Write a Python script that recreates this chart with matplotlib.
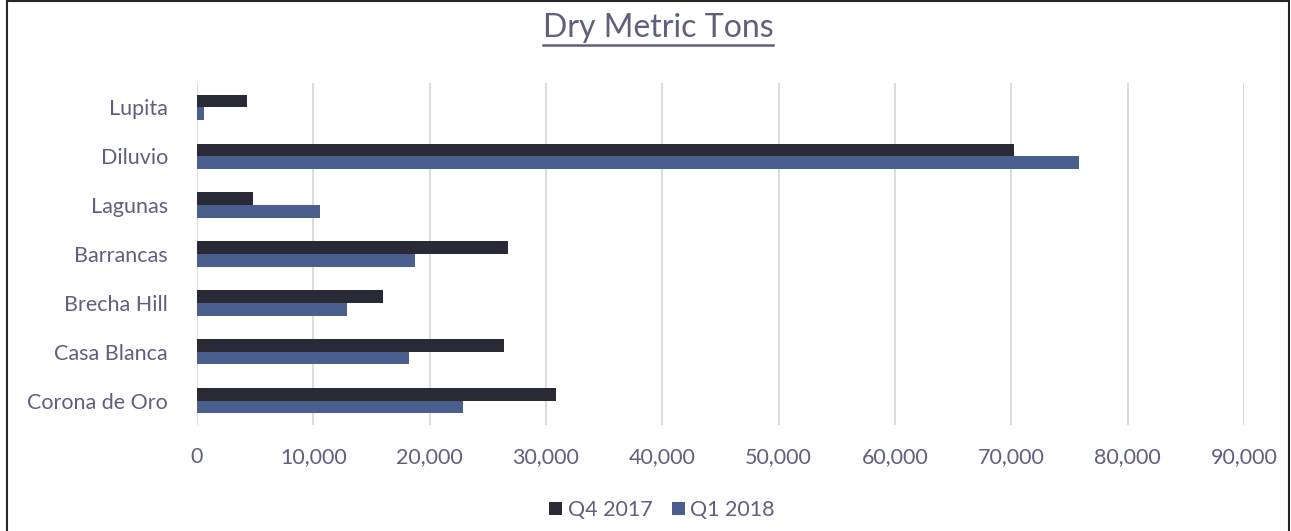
import numpy as np
import matplotlib.pyplot as plt
from matplotlib.lines import Line2D
from matplotlib.patches import Rectangle

mines = ['Lupita', 'Diluvio', 'Lagunas', 'Barrancas', 'Brecha Hill', 'Casa Blanca', 'Corona de Oro']
q4_2017 = [4300, 70200, 4800, 26700, 16000, 26400, 30900]
q1_2018 = [580, 75800, 10600, 18700, 12900, 18200, 22900]
xticks = [0, 10000, 20000, 30000, 40000, 50000, 60000, 70000, 80000, 90000]

txt = '#5f5f7f'
c_q4 = '#2a2a36'
c_q1 = '#4a5f8e'
plt.rcParams['font.family'] = ['Lato', 'DejaVu Sans']

W, H = 1291, 531
fig = plt.figure(figsize=(W / 100, H / 100), dpi=100)
ax = fig.add_axes([197 / W, 1 - 425 / H, (1244 - 197) / W, (425 - 83) / H])

y = np.arange(len(mines))[::-1]
h = 0.26
ax.barh(y + h / 2, q4_2017, height=h, color=c_q4, label='Q4 2017', zorder=3)
ax.barh(y - h / 2, q1_2018, height=h, color=c_q1, label='Q1 2018', zorder=3)

ax.set_xlim(0, 90000)
ax.set_ylim(-0.5, len(mines) - 0.5)
ax.set_xticks(xticks)
ax.set_xticklabels([f'{v:,}' for v in xticks])
ax.set_yticks(y)
ax.set_yticklabels(mines)
ax.grid(axis='x', color='#d9d9d9', linewidth=1.3, zorder=0)
for s in ax.spines.values():
    s.set_visible(False)
ax.tick_params(axis='both', length=0, colors=txt, labelsize=15.5)
ax.tick_params(axis='x', pad=16)
ax.tick_params(axis='y', pad=21)

leg = fig.legend(loc='center', bbox_to_anchor=(662 / W, 1 - 510 / H), ncol=2, frameon=False,
                 fontsize=15.5, handlelength=0.6, handleheight=0.6, handletextpad=0.25,
                 columnspacing=0.9)
for t in leg.get_texts():
    t.set_color(txt)

title = fig.text(658 / W, 1 - 28 / H, 'Dry Metric Tons', ha='center', va='center', fontsize=23, color=txt)
fig.canvas.draw()
bb = title.get_window_extent(fig.canvas.get_renderer())
fig.add_artist(Line2D([bb.x0 / W, bb.x1 / W], [1 - 45 / H, 1 - 45 / H], transform=fig.transFigure,
                      color=txt, linewidth=1.8))

fig.add_artist(Rectangle((7 / W, -0.05), (1289 - 7) / W, 1.05 - 1 / H, transform=fig.transFigure,
                         fill=False, edgecolor='#262626', linewidth=1.5))

fig.savefig('out.png', dpi=100)
